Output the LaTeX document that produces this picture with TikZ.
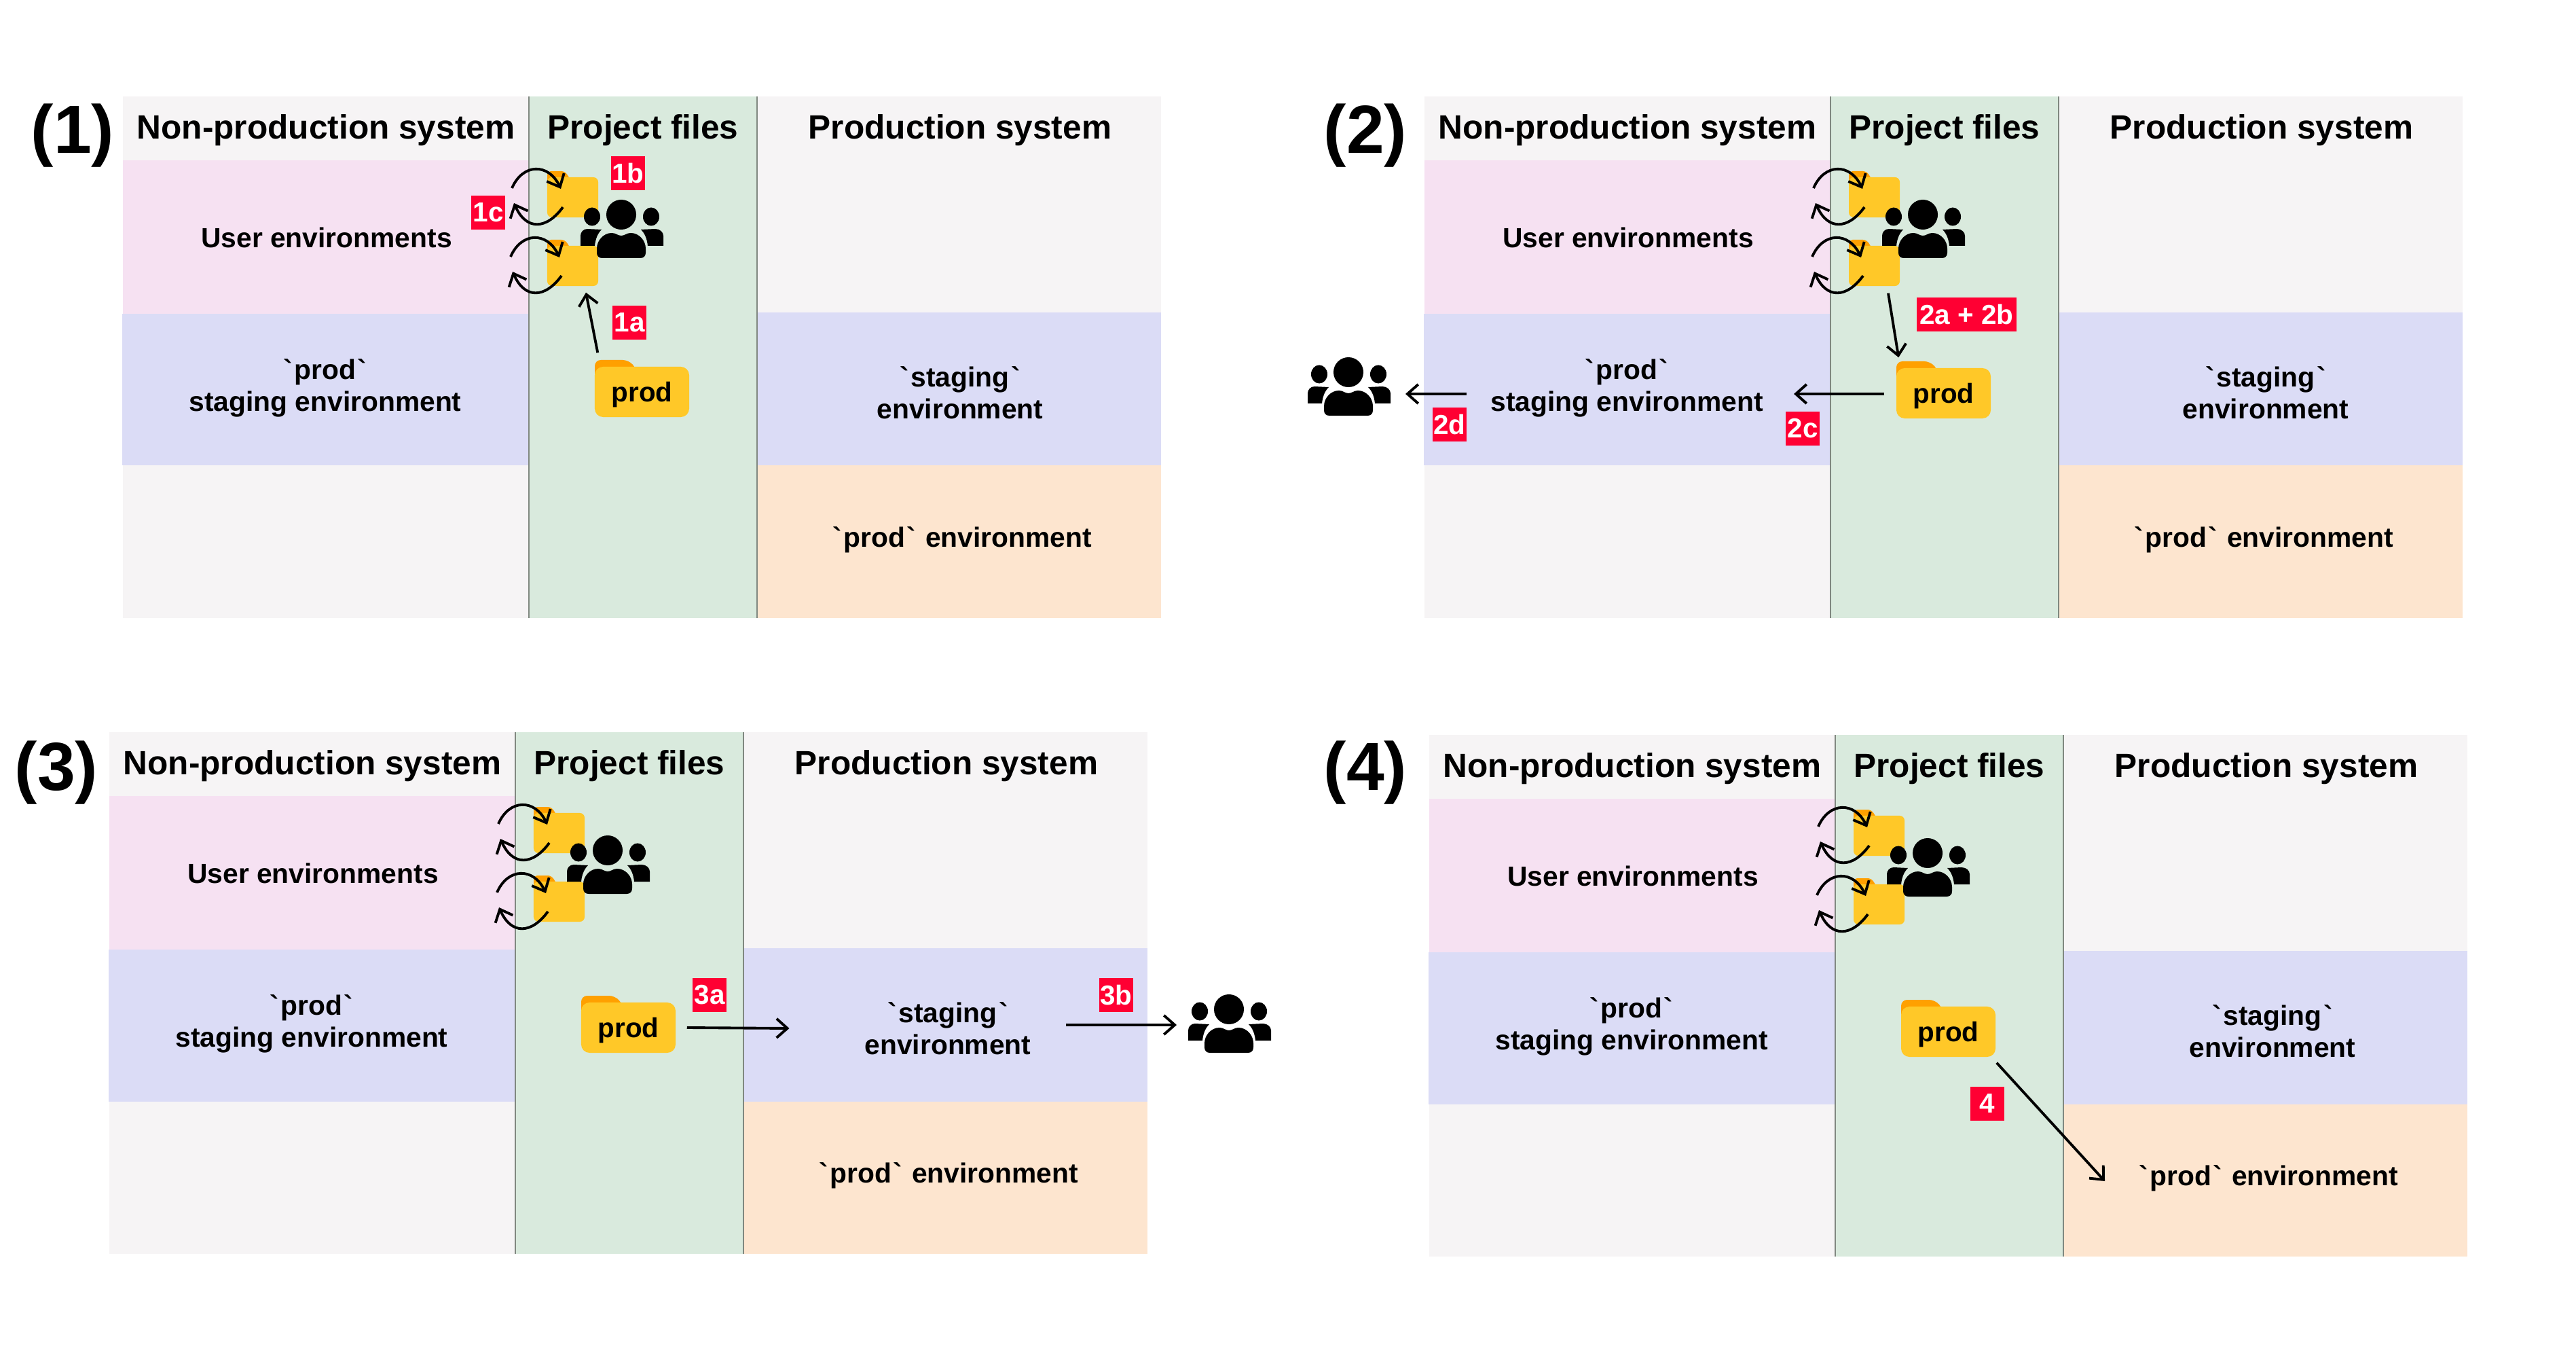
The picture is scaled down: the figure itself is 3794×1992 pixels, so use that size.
\documentclass[tikz,border=0pt]{standalone}
\usepackage{fontspec}
\usetikzlibrary{arrows.meta,calc}

\newfontfamily\panelfont{Liberation Sans}
\newcommand{\bq}{\kern0.06em`\kern0.06em}

\definecolor{greybg}{HTML}{F6F4F5}
\definecolor{pinkbg}{HTML}{F6E1F2}
\definecolor{bluebg}{HTML}{DBDCF6}
\definecolor{greenbg}{HTML}{D9EADD}
\definecolor{orangebg}{HTML}{FDE5CF}
\definecolor{divider}{HTML}{808880}
\definecolor{folderbody}{HTML}{FFC828}
\definecolor{foldertab}{HTML}{FFA000}
\definecolor{badgered}{HTML}{FF0033}

\tikzset{
  title/.style={font=\panelfont\bfseries\fontsize{28.5}{30}\selectfont},
  header/.style={font=\panelfont\bfseries\fontsize{14.1}{16}\selectfont},
  envtext/.style={font=\panelfont\bfseries\fontsize{11.6}{13.4}\selectfont,align=center},
  badge/.style={fill=badgered,text=white,font=\panelfont\bfseries\fontsize{11.5}{13}\selectfont,
    minimum width=0.5cm,minimum height=0.5cm,inner sep=0pt},
  conn/.style={line width=1.1pt,-{Straight Barb[length=4.5pt,width=8pt,line width=1.1pt]}},
  smallbody/.style={fill=folderbody,rounded corners=2pt,minimum width=0.75cm,minimum height=0.59cm,inner sep=0pt},
  bigbody/.style={fill=folderbody,rounded corners=3.5pt,minimum width=1.39cm,minimum height=0.74cm,inner sep=0pt},
  smallfolder/.pic={
    \fill[foldertab,rounded corners=1.5pt] (0,20) -- (0,0) -- (26,0) -- (34,12) -- (34,20) -- cycle;
    \node[smallbody] (-body) at (37.5,38.5) {};
  },
  bigfolder/.pic={
    \fill[foldertab,rounded corners=2.5pt] (0,30) -- (0,0) -- (50,0) -- (62,14) -- (62,30) -- cycle;
    \node[bigbody] (-body) at (69.5,47) {};
    \node[font=\panelfont\bfseries\fontsize{11.5}{13}\selectfont] (-label) at (69.5,51) {prod};
  },
  syncloops/.pic={
    \draw[conn] (-52,25) .. controls (-36,-12) and (2,-12) .. (20,26);
    \draw[conn] (23,53) .. controls (-1,86) and (-31,88) .. (-49,47);
  },
  people/.pic={
    \coordinate (-west) at (-62,43);
    \coordinate (-east) at (62,43);
    \fill (0,22) circle [radius=0.22cm];
    \fill (-43,25) ellipse [x radius=0.12cm,y radius=0.135cm];
    \fill (44,25) ellipse [x radius=0.12cm,y radius=0.135cm];
    \fill (-50,43) -- (-29,44) .. controls (-35,50) and (-38,58) .. (-39,68) -- (-60,68) -- (-60,53) .. controls (-60,48) and (-56,43) .. (-50,43) -- cycle;
    \fill (50,43) -- (29,44) .. controls (35,50) and (38,58) .. (39,68) -- (62,68) -- (62,53) .. controls (62,48) and (57,43) .. (50,43) -- cycle;
    \fill (-36,78) -- (-36,72) .. controls (-36,60) and (-26,49) .. (-14,49) .. controls (-8,49) and (-5,53) .. (0,53) .. controls (5,53) and (8,49) .. (14,49) .. controls (26,49) and (36,60) .. (36,72) -- (36,78) .. controls (36,83) and (33,86) .. (28,86) -- (-28,86) .. controls (-33,86) and (-36,83) .. (-36,78) -- cycle;
  },
}

% one panel: prefix, shift x, shift y, shift of the staging text, shift y of the prod folder
\newcommand{\panel}[5]{
  \begin{scope}[shift={(#2,#3)}]
    \fill[greybg] (181,142) rectangle (1710,910);
    \fill[pinkbg] (181,236) rectangle (779,462);
    \fill[bluebg] (180,462) rectangle (779,685.5);
    \fill[bluebg] (1115,460) rectangle (1710,685.5);
    \fill[orangebg] (1115,685.5) rectangle (1710,910);
    \fill[greenbg] (779,142) rectangle (1115,910);
    \draw[divider,line width=0.5pt] (779,142) -- (779,910);
    \draw[divider,line width=0.5pt] (1115,142) -- (1115,910);

    \node[header] (#1nonprod) at (480,192) {Non-production system};
    \node[header] (#1files) at (947,192) {Project files};
    \node[header] (#1prodsys) at (1414,192) {Production system};
    \node[envtext] (#1user) at (481,350) {User environments};
    \node[envtext] (#1stprod) at (479,571.5) {\bq prod\bq\\staging environment};
    \node[envtext] (#1stag) at (1414+#4,578) {\bq staging\bq\\environment};
    \node[envtext] (#1env) at (1416,795) {\bq prod\bq{} environment};

    \pic (#1sfa) at (806,252) {smallfolder};
    \pic (#1sfb) at (806,353) {smallfolder};
    \pic at (806,252) {syncloops};
    \pic at (804,353) {syncloops};
    \pic (#1big) at (876,530+#5) {bigfolder};
    \pic (#1ppl) at (915,294) {people};
  \end{scope}
}

\begin{document}
\begin{tikzpicture}[x=0.01cm,y=-0.01cm]
\useasboundingbox (0,0) rectangle (3794,1992);

\panel{pa}{0}{0}{0}{0}
\panel{pb}{1917}{0}{6}{2}
\panel{pc}{-20}{936}{2}{0}
\panel{pd}{1924}{940}{9}{2}

\node[title] (numa) at (107,200) {(1)};
\node[title] (numb) at (2011,200) {(2)};
\node[title] (numc) at (83,1138) {(3)};
\node[title] (numd) at (2011,1138) {(4)};

% panel 1
\draw[conn] ($(pabig-body.north west)+(5,-20)$) -- ($(pasfb-body.south)+(19.5,9)$);
\node[badge] (ba) at (927,475) {1a};
\node[badge] (bb) at (925,255) {1b};
\node[badge] (bc) at (719,313) {1c};

% panel 2
\draw[conn] ($(pbsfb-body.south)+(20.5,10)$) -- ($(pbbig-body.north west)+(4,-15)$);
\draw[conn] ($(pbbig-body.west)+(-17,1)$) -- ($(pbstprod.center)+(246,8.5)$);
\pic (pbout) at (1986,526) {people};
\draw[conn] ($(pbstprod.center)+(-236,8.5)$) -- ($(pbout-east)+(22,11)$);
\node[badge,minimum width=1.47cm] (bab) at (2896.5,463) {2a + 2b};
\node[badge] (bcc) at (2655,631) {2c};
\node[badge] (bd) at (2135,625) {2d};

% panel 3
\draw[conn] ($(pcbig-body.east)+(16,0)$) -- ($(pcstag.center)+(-233.5,0)$);
\pic (pcout) at (1810,1464) {people};
\draw[conn] ($(pcstag.center)+(174,-5)$) -- ($(pcout-west)+(-15,2)$);
\node[badge] (ca) at (1045,1465) {3a};
\node[badge] (cb) at (1644,1465) {3b};

% panel 4
\draw[conn] ($(pdbig-body.south east)+(1,8)$) -- ($(pdenv.center)+(-240,4)$);
\node[badge] (da) at (2927,1625) {4};

\end{tikzpicture}
\end{document}
